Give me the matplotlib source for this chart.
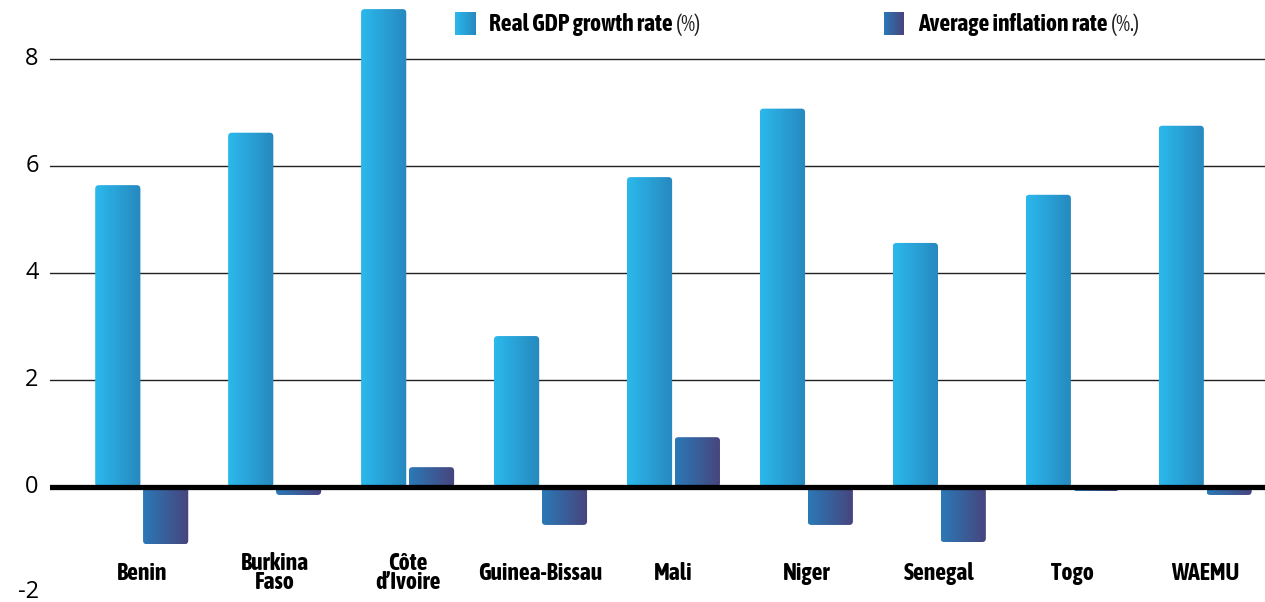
import numpy as np
import matplotlib
matplotlib.use("Agg")
import matplotlib.pyplot as plt
from matplotlib import font_manager
from matplotlib.patches import FancyBboxPatch
from matplotlib.colors import LinearSegmentedColormap

countries = ["Benin", "Burkina\nFaso", "Côte\nd’Ivoire", "Guinea-Bissau", "Mali",
             "Niger", "Senegal", "Togo", "WAEMU"]
gdp_growth = [5.64, 6.62, 8.93, 2.82, 5.79, 7.07, 4.56, 5.46, 6.75]
inflation = [-1.07, -0.15, 0.37, -0.71, 0.93, -0.71, -1.03, -0.08, -0.15]
yticks = [-2, 0, 2, 4, 6, 8]

gdp_cm = LinearSegmentedColormap.from_list("gdp", ["#2bb9ed", "#2788be"])
inf_cm = LinearSegmentedColormap.from_list("inf", ["#2a79b6", "#48447d"])
grad = np.linspace(0, 1, 64).reshape(1, -1)

# condensed family that has a bold face, for the labels
fonts = font_manager.fontManager.ttflist
narrow = sorted({f.name for f in fonts
                 if ("Narrow" in f.name or "Condensed" in f.name)
                 and f.weight in (700, "bold") and f.style == "normal"})
narrow_reg = sorted({f.name for f in fonts
                     if ("Narrow" in f.name or "Condensed" in f.name)})
pref = [n for n in narrow if "Liberation" in n] + narrow
label_font = pref[:1] + ["DejaVu Sans"]
reg_font = (pref[:1] if pref else narrow_reg[:1]) + ["DejaVu Sans"]
fs_lab = 17 if pref else 12
tick_font = ["Open Sans", "DejaVu Sans"]

fig = plt.figure(figsize=(12.65, 6.02), dpi=100)
ax = fig.add_axes([50 / 1265, 0, 1 - 50 / 1265, 1])

xmin, xmax = -0.69, 8.45
ymin, ymax = -2.15, 9.1
aspect = (1215 / (xmax - xmin)) / (602 / (ymax - ymin))

width = 0.34
off = 0.18


def grad_bar(x, h, cmap):
    y0 = min(0, h)
    patch = FancyBboxPatch((x - width / 2, y0), width, abs(h),
                           boxstyle="round,pad=0,rounding_size=0.028",
                           mutation_aspect=aspect, facecolor="none",
                           edgecolor="none", zorder=2)
    ax.add_patch(patch)
    im = ax.imshow(grad, cmap=cmap, aspect="auto", zorder=2,
                   extent=[x - width / 2, x + width / 2, y0, y0 + abs(h)])
    im.set_clip_path(patch)


x = np.arange(len(countries))
for i in x:
    grad_bar(i - off, gdp_growth[i], gdp_cm)
    grad_bar(i + off, inflation[i], inf_cm)

for t in yticks:
    if t > 0:
        ax.axhline(t, color="#222222", lw=1, zorder=1)
ax.axhline(0, color="black", lw=3.8, zorder=3)

ax.set_xlim(xmin, xmax)
ax.set_ylim(ymin, ymax)
for s in ax.spines.values():
    s.set_visible(False)
ax.set_xticks([])
ax.set_yticks([])

for t in yticks:
    ax.text(-0.775, t + (0.04 if t < 0 else 0), str(t), ha="right", va="center",
            fontsize=17, family=tick_font, clip_on=False)

for i, name in enumerate(countries):
    ax.text(i, -1.61, name, ha="center", va="center", fontsize=fs_lab,
            fontweight="bold", family=label_font, linespacing=0.8)

# legend
legend = [("Real GDP growth rate", " (%)", gdp_cm, 455),
          ("Average inflation rate", " (%.)", inf_cm, 884)]
for bold, rest, cmap, px in legend:
    lax = fig.add_axes([px / 1265, 1 - 35 / 602, 20 / 1265, 23 / 602])
    lax.imshow(grad, cmap=cmap, aspect="auto")
    lax.axis("off")
    t1 = fig.text((px + 34) / 1265, 1 - 24.5 / 602, bold, ha="left", va="center",
                  fontsize=fs_lab, fontweight="bold", family=label_font)
    fig.canvas.draw()
    ax.annotate(rest, xy=(1, 0.5), xycoords=t1, ha="left", va="center",
                fontsize=fs_lab - 1, family=reg_font, color="#222222")

fig.savefig("out.png", dpi=100)
